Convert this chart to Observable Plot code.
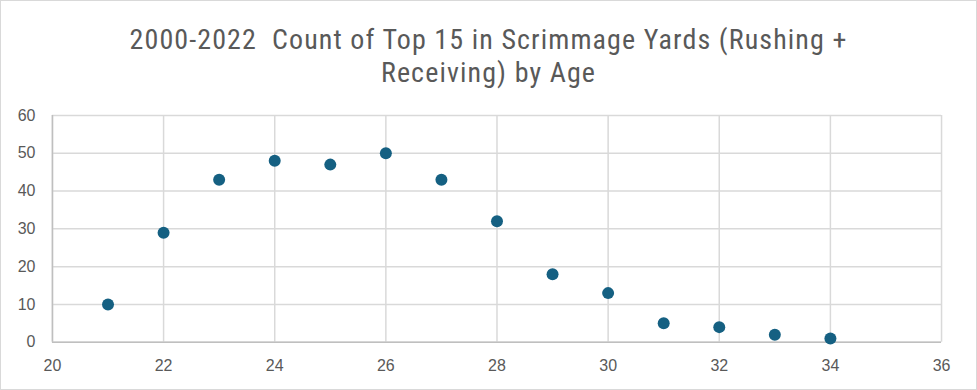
<!DOCTYPE html>
<html><head><meta charset="utf-8">
<script src="https://cdn.jsdelivr.net/npm/d3@7"></script>
<script src="https://cdn.jsdelivr.net/npm/@observablehq/plot@0.6"></script>
<style>
html,body{margin:0;padding:0;background:#fff;}
#wrap{position:relative;width:975px;height:388px;border:1px solid #d9d9d9;background:#fff;overflow:hidden;}
#title{position:absolute;left:0;top:0;width:975px;text-align:center;font-family:"Liberation Sans Narrow","Roboto Condensed","Liberation Sans",sans-serif;font-size:28px;letter-spacing:1.1px;line-height:33px;color:#595959;padding-top:22px;}
#chart{position:absolute;left:-1px;top:99px;}
</style></head>
<body>
<div id="wrap"><div id="title">2000-2022&nbsp; Count of Top 15 in Scrimmage Yards (Rushing +<br>Receiving) by Age</div><div id="chart"></div></div>
<script>
const ages = [21,22,23,24,25,26,27,28,29,30,31,32,33,34];
const counts = [10,29,43,48,47,50,43,32,18,13,5,4,2,1];
const xTicks = [20,22,24,26,28,30,32,34,36];
const yTicks = [0,10,20,30,40,50,60];
const data = ages.map((a,i)=>({age:a,count:counts[i]}));
const plot = Plot.plot({
  width: 977, height: 289,
  marginTop: 15, marginBottom: 47, marginLeft: 52, marginRight: 35,
  style: {fontFamily: "'Liberation Sans', Arial, sans-serif", fontSize: "16px", color: "#595959", background: "transparent"},
  x: {domain: [20,36], ticks: xTicks, tickSize: 0, tickPadding: 17, label: null},
  y: {domain: [0,60], ticks: yTicks, tickSize: 0, tickPadding: 17, label: null},
  marks: [
    Plot.gridX(xTicks, {stroke: "#d9d9d9", strokeOpacity: 1, strokeWidth: 1.5}),
    Plot.gridY(yTicks, {stroke: "#d9d9d9", strokeOpacity: 1, strokeWidth: 1.5}),
    Plot.ruleY([0], {stroke: "#bfbfbf", strokeWidth: 1.5}),
    Plot.ruleX([20], {stroke: "#bfbfbf", strokeWidth: 1.5}),
    Plot.axisX({ticks: xTicks, tickSize: 0, tickPadding: 17, fontSize: 16, label: null}),
    Plot.axisY({ticks: yTicks, tickSize: 0, tickPadding: 17, fontSize: 16, label: null}),
    Plot.dot(data, {x: "age", y: "count", r: 6, fill: "#156082", stroke: "none"})
  ]
});
document.getElementById("chart").appendChild(plot);
</script>
</body></html>
